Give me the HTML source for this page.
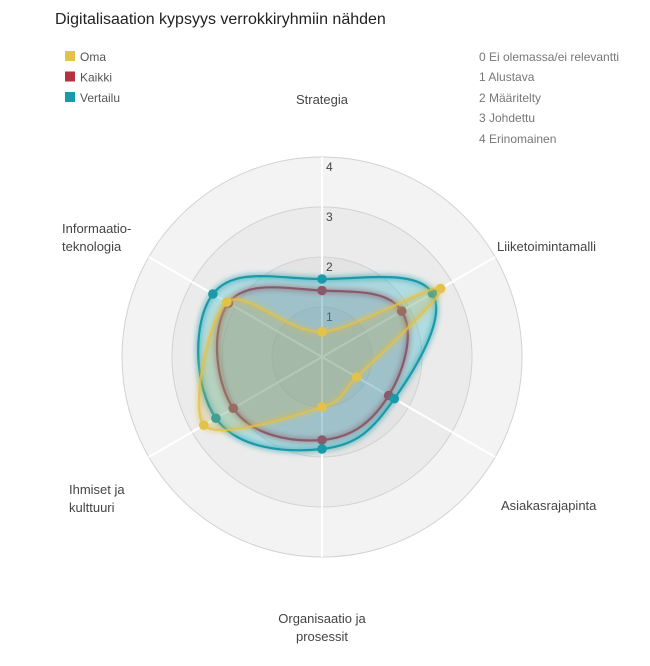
<!DOCTYPE html>
<html><head><meta charset="utf-8"><style>
body{margin:0;background:#fff;font-family:"Liberation Sans",sans-serif;}
svg text{font-family:"Liberation Sans",sans-serif;}
</style></head><body>
<svg id="chart" width="650" height="661">
<defs><filter id="glow" x="-20%" y="-20%" width="140%" height="140%"><feGaussianBlur stdDeviation="2.5"/></filter></defs>
<text x="55" y="24" font-size="16" fill="#222">Digitalisaation kypsyys verrokkiryhmiin nähden</text>
<g id="legend"></g>
<g font-size="12" fill="#777">
<text x="479" y="61">0 Ei olemassa/ei relevantti</text>
<text x="479" y="81">1 Alustava</text>
<text x="479" y="102">2 Määritelty</text>
<text x="479" y="122">3 Johdettu</text>
<text x="479" y="143">4 Erinomainen</text>
</g>
<g id="grid"></g>
<g id="series"></g>
<g id="labels" font-size="13" fill="#444"></g>
</svg>
<script>
const categories=["Strategia","Liiketoimintamalli","Asiakasrajapinta","Organisaatio ja prosessit","Ihmiset ja kulttuuri","Informaatio-teknologia"];
const omaValues=[0.5,2.74,0.8,1.0,2.73,2.2];
const kaikkiValues=[1.33,1.84,1.54,1.66,2.05,2.16];
const vertailuValues=[1.56,2.55,1.67,1.84,2.45,2.52];
const tickLabels=["1","2","3","4"];
const seriesNames=["Oma","Kaikki","Vertailu"];
const NS="http://www.w3.org/2000/svg";
const cx=322,cy=357,R=200,maxV=4;
function rScale(v){return v/maxV*R;}
function pt(i,v){const a=i/categories.length*2*Math.PI;return [cx+rScale(v)*Math.sin(a),cy-rScale(v)*Math.cos(a)];}
function mk(tag,attrs,parent){const e=document.createElementNS(NS,tag);for(const k in attrs)e.setAttribute(k,attrs[k]);parent.appendChild(e);return e;}
const grid=document.getElementById('grid');
const fills=["#f3f3f3","#ebebeb","#e3e3e3","#dcdcdc"];
for(let t=tickLabels.length;t>=1;t--){
 const c=mk('circle',{cx:cx,cy:cy,r:rScale(t),fill:fills[tickLabels.length-t],stroke:"#d2d2d2","stroke-width":1},grid);
 
 
}
categories.forEach((c,i)=>{const p=pt(i,4);const l=mk('line',{x1:cx,y1:cy,x2:p[0],y2:p[1],stroke:"#fff","stroke-width":2},grid);
 
 });
tickLabels.forEach((t,i)=>{const tx=mk('text',{x:cx+4,y:cy-rScale(+t)+14,"font-size":12,fill:"#444"},grid);tx.textContent=t;
 
 });
function pathFor(vals,tens){const P=vals.map((v,i)=>pt(i,v));const n=P.length;let d="M"+P[0][0]+","+P[0][1];
 for(let i=0;i<n;i++){const p0=P[(i-1+n)%n],p1=P[i],p2=P[(i+1)%n],p3=P[(i+2)%n];
 const c1=[p1[0]+(p2[0]-p0[0])*tens,p1[1]+(p2[1]-p0[1])*tens],c2=[p2[0]-(p3[0]-p1[0])*tens,p2[1]-(p3[1]-p1[1])*tens];
 d+=` C${c1[0]},${c1[1]} ${c2[0]},${c2[1]} ${p2[0]},${p2[1]}`;}return d+"Z";}
const ser=document.getElementById('series');
const defs=[[kaikkiValues,"#b5323f","rgba(140,60,80,0.18)","kaikki",0.2,1],[vertailuValues,"#1a9aa8","rgba(40,185,205,0.3)","vertailu",0.2,1],[omaValues,"#e3c24a","rgba(200,175,70,0.22)","oma",0.15,0.75]];
defs.forEach(([vals,col,fill,name,t,op])=>{
 const d=pathFor(vals,t);
 const g=mk('g',{},ser);
 
 
 mk('path',{d:d,fill:"none",stroke:col,"stroke-width":6,opacity:0.45,filter:"url(#glow)"},g);
 const p=mk('path',{d:d,fill:fill,stroke:col,"stroke-width":2.2,"stroke-opacity":op},g);
 
 
 vals.forEach((v,i)=>{const q=pt(i,v);const c=mk('circle',{cx:q[0],cy:q[1],r:4.8,fill:col},g);
  
  });
});
const labPos=[[322,104,"middle",["Strategia"]],[497,251,"start",["Liiketoimintamalli"]],[501,510,"start",["Asiakasrajapinta"]],[322,623,"middle",["Organisaatio ja","prosessit"]],[69,494,"start",["Ihmiset ja","kulttuuri"]],[62,233,"start",["Informaatio-","teknologia"]]];
const lab=document.getElementById('labels');
labPos.forEach((l,i)=>{const tx=mk('text',{x:l[0],y:l[1],"text-anchor":l[2]},lab);
 
 
 l[3].forEach((s,j)=>{const ts=mk('tspan',{x:l[0],dy:j?18:0},tx);ts.textContent=s;});});
const leg=document.getElementById('legend');
const legCols=["#e3c24a","#b5323f","#1a9aa8"];
seriesNames.forEach((s,i)=>{const g=mk('g',{},leg);
 
 
 mk('rect',{x:65,y:51+i*20.5,width:10,height:10,fill:legCols[i]},g);
 const t=mk('text',{x:80,y:61+i*20.5,"font-size":12,fill:"#555"},g);t.textContent=s;});
</script>
</body></html>
